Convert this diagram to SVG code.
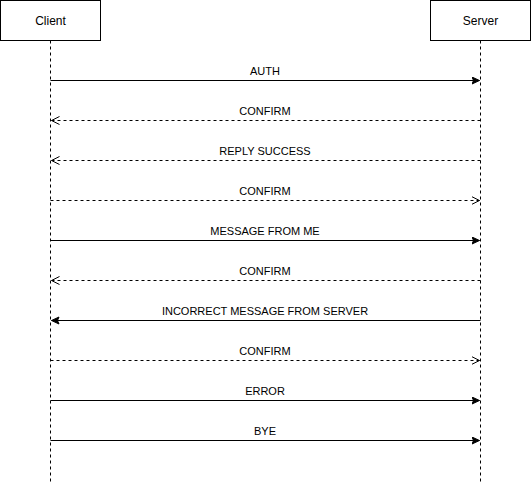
<svg xmlns="http://www.w3.org/2000/svg" width="531" height="482" viewBox="0 0 531 482">
<style>
.box{fill:#fff;stroke:#000;stroke-width:1}
.life{stroke:#000;stroke-width:1;stroke-dasharray:3 3;fill:none}
.msg{stroke:#000;stroke-width:1;fill:none}
.ret{stroke:#000;stroke-width:1;fill:none;stroke-dasharray:3 3}
.t{font-family:"Liberation Sans",Arial,sans-serif;font-size:11px;fill:#000;text-anchor:middle}
.h{font-family:"Liberation Sans",Arial,sans-serif;font-size:12px;fill:#000;text-anchor:middle}
</style>
<defs>
<marker id="fill" markerWidth="10" markerHeight="10" refX="8" refY="4" orient="auto" markerUnits="userSpaceOnUse">
<path d="M0.5,0.5 L8,4 L0.5,7.5 L2,4 Z" fill="#000" stroke="#000" stroke-width="1"/>
</marker>
<marker id="open" markerWidth="10" markerHeight="10" refX="8" refY="4.5" orient="auto" markerUnits="userSpaceOnUse">
<path d="M0,0.5 L8,4.5 L0,8.5" fill="none" stroke="#000" stroke-width="1"/>
</marker>
</defs>
<rect width="531" height="482" fill="#fff"/>
<g id="client">
<line class="life" x1="50.5" y1="40.5" x2="50.5" y2="482"/>
<rect class="box" x="0.5" y="0.5" width="100" height="40"/>
<text class="h" x="50.5" y="24.5">Client</text>
</g>
<g id="server">
<line class="life" x1="480.5" y1="40.5" x2="480.5" y2="482"/>
<rect class="box" x="430.5" y="0.5" width="100" height="40"/>
<text class="h" x="480.5" y="24.5">Server</text>
</g>
<g id="connectors">
<line class="msg" x1="50.5" y1="80.5" x2="479.5" y2="80.5" marker-end="url(#fill)"/>
<text class="t" x="265" y="75">AUTH</text>
<line class="ret" x1="480.5" y1="120.5" x2="51.5" y2="120.5" marker-end="url(#open)"/>
<text class="t" x="265" y="115">CONFIRM</text>
<line class="ret" x1="480.5" y1="160.5" x2="51.5" y2="160.5" marker-end="url(#open)"/>
<text class="t" x="265" y="155">REPLY SUCCESS</text>
<line class="ret" x1="50.5" y1="200.5" x2="479.5" y2="200.5" marker-end="url(#open)"/>
<text class="t" x="265" y="195">CONFIRM</text>
<line class="msg" x1="50.5" y1="240.5" x2="479.5" y2="240.5" marker-end="url(#fill)"/>
<text class="t" x="265" y="235">MESSAGE FROM ME</text>
<line class="ret" x1="480.5" y1="280.5" x2="51.5" y2="280.5" marker-end="url(#open)"/>
<text class="t" x="265" y="275">CONFIRM</text>
<line class="msg" x1="480.5" y1="320.5" x2="51.5" y2="320.5" marker-end="url(#fill)"/>
<text class="t" x="265" y="315">INCORRECT MESSAGE FROM SERVER</text>
<line class="ret" x1="50.5" y1="360.5" x2="479.5" y2="360.5" marker-end="url(#open)"/>
<text class="t" x="265" y="355">CONFIRM</text>
<line class="msg" x1="50.5" y1="400.5" x2="479.5" y2="400.5" marker-end="url(#fill)"/>
<text class="t" x="265" y="395">ERROR</text>
<line class="msg" x1="50.5" y1="440.5" x2="479.5" y2="440.5" marker-end="url(#fill)"/>
<text class="t" x="265" y="435">BYE</text>
</g>
</svg>
